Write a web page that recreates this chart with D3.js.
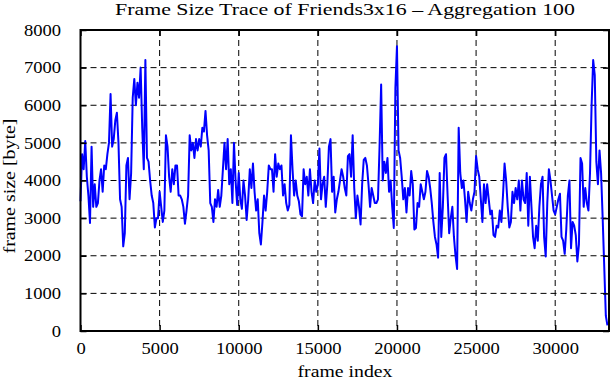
<!DOCTYPE html>
<html>
<head>
<meta charset="utf-8">
<script src="https://cdn.jsdelivr.net/npm/d3@7"></script>
<style>
body { margin: 0; background: #fff; }
text { font-family: "Liberation Serif", "DejaVu Serif", serif; }
</style>
</head>
<body>
<svg id="chart"></svg>
<script>
// frame size, one value per 100 frames (aggregation 100)
var frameSizes = [
3450,4700,4300,5050,4100,3600,2870,4900,3300,3900,3300,3400,4000,4300,3700,4400,4300,4700,5000,6300,
4900,5100,5600,5800,5000,3500,3300,2250,2600,4400,4600,3500,4200,6200,6700,6000,6600,6200,7000,5400,
4300,7200,4600,4500,4000,3600,3400,2750,3000,3000,3700,3300,2900,3200,5200,4900,4100,3700,4300,3900,
4400,4400,3600,3600,3500,3300,2850,3200,3600,5200,4800,5000,4600,5100,4800,5100,4900,5400,5300,5850,
5200,4800,3400,3300,2900,3500,3300,3750,3300,3600,4300,5000,4300,5100,3900,4300,3400,5000,4000,3350,
4200,3500,3250,4000,3600,2950,3500,4300,3800,4450,3700,3200,3500,2600,2300,2900,3600,3200,3700,4400,
4300,4300,3700,4700,4100,4450,4300,4400,3600,3900,3400,3200,3350,5200,4300,3600,4000,3600,3450,3100,
3050,4300,3900,4100,3600,4300,3700,3400,4000,3700,3900,4850,3500,3900,4100,3300,3900,4900,5100,3700,
4100,3150,3500,3700,4000,4300,4100,3800,3600,4650,4700,4100,5200,3800,3000,3600,3300,2830,3900,4550,
4600,4400,3900,3300,3800,3600,3400,3400,3500,4900,6550,4000,4500,4200,4600,3700,4000,3300,2740,6450,
7570,4800,4600,4100,3500,3800,3150,3800,3600,4250,3900,2700,2740,3400,3300,3900,3700,3500,3700,4250,
4100,3800,3400,2900,2500,2300,1950,4200,2500,3300,4600,4700,3600,2600,3000,3300,2500,2000,1650,5400,
4200,3800,4000,3500,2900,3700,3400,3200,3500,3700,4650,4300,4100,3500,2900,3900,3400,3900,3500,3100,
3200,2550,2500,2800,2750,3200,2900,3600,4450,4000,3300,2750,2900,3700,3400,3800,3500,4000,3200,4000,
3500,3400,4200,2800,4100,3300,2500,2200,2800,2400,3300,3900,4100,2500,1980,3400,4300,4000,3600,3200,
3100,3300,3500,3650,2500,2400,2050,2700,3600,4000,2200,2900,2800,2550,1850,2300,4600,4450,3300,3800,
3400,3200,4200,6000,7200,6800,4500,3900,4800,4200,3000,1700,400,150
];
var aggregation = 100;
var xTicks = [0, 5000, 10000, 15000, 20000, 25000, 30000];
var yTicks = [0, 1000, 2000, 3000, 4000, 5000, 6000, 7000, 8000];

var dimensions = {
    width: 611,
    height: 380,
    margin: { top: 30, bottom: 49, right: 2, left: 80.5 }
};
var innerW = dimensions.width - dimensions.margin.left - dimensions.margin.right;
var innerH = dimensions.height - dimensions.margin.top - dimensions.margin.bottom;

var svg = d3.select("#chart")
    .attr("width", dimensions.width)
    .attr("height", dimensions.height);

var g = svg.append("g")
    .attr("transform", "translate(" + dimensions.margin.left + "," + dimensions.margin.top + ")");

var xScale = d3.scaleLinear().domain([0, 33400]).range([0, innerW]);
var yScale = d3.scaleLinear().domain([0, 8000]).range([innerH, 0]);

// the reference font is a wide Times, so stretch the glyphs a bit
function widen(sel, factor) {
    sel.each(function () {
        var len = this.getComputedTextLength();
        d3.select(this).attr("textLength", len * factor).attr("lengthAdjust", "spacingAndGlyphs");
    });
}

// dashed grid
g.append("g").selectAll("line")
    .data(yTicks.slice(1, -1))
    .enter().append("line")
    .attr("x1", 0).attr("x2", innerW)
    .attr("y1", d => yScale(d)).attr("y2", d => yScale(d))
    .attr("stroke", "black").attr("stroke-width", 1)
    .attr("stroke-dasharray", "6,4");

g.append("g").selectAll("line")
    .data(xTicks.slice(1))
    .enter().append("line")
    .attr("x1", d => xScale(d)).attr("x2", d => xScale(d))
    .attr("y1", 0).attr("y2", innerH)
    .attr("stroke", "black").attr("stroke-width", 1)
    .attr("stroke-dasharray", "6,4");

// the trace
var line = d3.line()
    .x((d, i) => xScale(i * aggregation))
    .y(d => yScale(d));

g.append("path")
    .datum(frameSizes)
    .attr("d", line)
    .attr("fill", "none")
    .attr("stroke", "#0000ff")
    .attr("stroke-width", 2)
    .attr("stroke-linejoin", "round");

// axes with inward ticks on all four sides
var fmt = d3.format("d");
g.append("g")
    .attr("transform", "translate(0," + innerH + ")")
    .call(d3.axisBottom(xScale).tickValues(xTicks).tickFormat(fmt).tickSizeInner(-6).tickSizeOuter(0).tickPadding(12));
g.append("g")
    .call(d3.axisTop(xScale).tickValues(xTicks).tickSizeInner(-6).tickSizeOuter(0).tickFormat(""));
g.append("g")
    .call(d3.axisLeft(yScale).tickValues(yTicks).tickFormat(fmt).tickSizeInner(-6).tickSizeOuter(0).tickPadding(19.5));
g.append("g")
    .attr("transform", "translate(" + innerW + ",0)")
    .call(d3.axisRight(yScale).tickValues(yTicks).tickSizeInner(-6).tickSizeOuter(0).tickFormat(""));

g.selectAll(".domain").remove();
g.selectAll(".tick line").attr("stroke", "black").attr("stroke-width", 1.5);
g.selectAll(".tick text")
    .attr("fill", "black")
    .style("font-size", "16px")
    .style("font-family", "'Liberation Serif', serif")
    .call(widen, 1.16);

// frame
g.append("rect")
    .attr("x", 0).attr("y", 0)
    .attr("width", innerW).attr("height", innerH)
    .attr("fill", "none").attr("stroke", "black").attr("stroke-width", 2);

// labels
svg.append("text")
    .attr("x", 345).attr("y", 15)
    .attr("text-anchor", "middle")
    .style("font-size", "17.5px")
    .attr("textLength", 460).attr("lengthAdjust", "spacingAndGlyphs")
    .text("Frame Size Trace of Friends3x16 \u2013 Aggregation 100");

svg.append("text")
    .attr("x", 345).attr("y", 377)
    .attr("text-anchor", "middle")
    .style("font-size", "16px")
    .attr("textLength", 95).attr("lengthAdjust", "spacingAndGlyphs")
    .text("frame index");

svg.append("text")
    .attr("transform", "translate(15,186) rotate(-90)")
    .attr("text-anchor", "middle")
    .style("font-size", "16px")
    .attr("textLength", 135).attr("lengthAdjust", "spacingAndGlyphs")
    .text("frame size [byte]");
</script>
</body>
</html>
